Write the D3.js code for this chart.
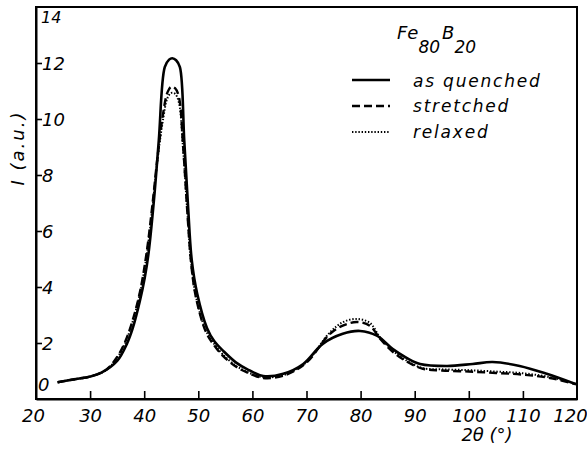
<!DOCTYPE html>
<html>
<head>
<meta charset="utf-8">
<script src="https://cdn.jsdelivr.net/npm/d3@7"></script>
<style>
  html, body { margin: 0; padding: 0; background: #fff; }
  svg text { font-family: "DejaVu Sans", sans-serif; font-style: oblique; fill: #000; }
</style>
</head>
<body>
<svg id="chart" width="587" height="455"></svg>
<script>
// ---- data ----
const xTicks = [20, 30, 40, 50, 60, 70, 80, 90, 100, 110, 120];
const yTicks = [0, 2, 4, 6, 8, 10, 12, 14];

const quenchedX = [24, 27, 30, 32, 35, 36.8, 37.9, 39.2, 40.1, 40.8, 41.8, 42.7, 43.8, 44.6, 45.2, 45.9, 46.6, 47.4, 48.1, 48.8, 49.8, 51.6, 53, 54.6, 57, 59, 62, 65.7, 69.4, 73, 76.7, 79.9, 83, 85.9, 88.5, 91, 96, 100.7, 104.4, 109.4, 114.4, 119.8];
const quenchedY = [0.6, 0.7, 0.8, 0.93, 1.36, 1.97, 2.54, 3.5, 4.33, 5.2, 7.1, 9.24, 11.85, 12.12, 12.17, 12.1, 11.85, 9.24, 6.9, 4.94, 3.76, 2.54, 2.05, 1.72, 1.3, 1.07, 0.82, 0.9, 1.25, 1.97, 2.33, 2.43, 2.26, 1.79, 1.47, 1.25, 1.18, 1.25, 1.32, 1.18, 0.9, 0.53];

const otherX = [24, 27, 30, 33, 35, 36.5, 38, 39.3, 40.5, 41.5, 42.5, 43.5, 44.3, 45, 45.7, 46.4, 47.2, 48, 48.7, 49.6, 51.4, 53, 54.5, 57, 59, 62, 66, 70, 74.2, 76.7, 79.3, 81.7, 83.6, 86, 88.6, 91.5, 95, 100, 105, 110, 115, 119.8];
const stretchedY = [0.6, 0.7, 0.8, 1.05, 1.5, 2.05, 2.9, 3.9, 5.3, 6.9, 8.7, 10.2, 10.95, 11.15, 11.1, 10.8, 9.0, 6.6, 4.8, 3.6, 2.4, 1.9, 1.55, 1.15, 0.95, 0.75, 0.85, 1.3, 2.3, 2.62, 2.75, 2.62, 2.15, 1.68, 1.33, 1.08, 1.02, 0.98, 0.93, 0.87, 0.75, 0.53];
const relaxedY = [0.6, 0.7, 0.8, 1.03, 1.47, 2.0, 2.85, 3.85, 5.2, 6.8, 8.6, 10.0, 10.75, 10.93, 10.9, 10.6, 8.9, 6.6, 4.8, 3.62, 2.45, 1.95, 1.6, 1.18, 0.97, 0.78, 0.87, 1.32, 2.35, 2.74, 2.86, 2.72, 2.2, 1.72, 1.36, 1.1, 1.06, 1.03, 0.98, 0.92, 0.78, 0.55];

const seriesNames = ["as quenched", "stretched", "relaxed"];

// ---- layout ----
const svg = d3.select("#chart");
const L = 36, T = 7, R = 577, B = 399;
const x = d3.scaleLinear().domain([20, 120]).range([L, R]);
const y = d3.scaleLinear().domain([0, 14]).range([B, T]);

const styles = [
  { dash: null, width: 2.6 },
  { dash: "8,4", width: 2.4 },
  { dash: "1.4,1.8", width: 2.0 }
];

// frame
svg.append("rect").attr("x", L).attr("y", T).attr("width", R - L).attr("height", B - T)
  .attr("fill", "none").attr("stroke", "#000").attr("stroke-width", 2);

// x axis (inward ticks)
const gx = svg.append("g").attr("transform", `translate(0,${B})`)
  .call(d3.axisBottom(x).tickValues(xTicks).tickSizeInner(-8).tickSizeOuter(0).tickPadding(12).tickFormat(d3.format("d")));
gx.select(".domain").attr("stroke-width", 2);
gx.selectAll(".tick line").attr("stroke-width", 1.6);
gx.selectAll(".tick text").attr("font-size", 18).attr("font-family", "DejaVu Sans").attr("font-style", "oblique")
  .attr("dy", "0.6em");
gx.selectAll(".tick text").filter(d => d === 20).attr("dx", -3);
gx.selectAll(".tick text").filter(d => d === 120).attr("dx", -7);
gx.selectAll(".tick line").filter(d => d === 20 || d === 120).remove();

// y axis (inward ticks, labels inside)
const gy = svg.append("g").attr("transform", `translate(${L},0)`)
  .call(d3.axisLeft(y).tickValues(yTicks).tickSizeInner(-6).tickSizeOuter(0).tickFormat(d3.format("d")));
gy.select(".domain").attr("stroke-width", 2);
gy.selectAll(".tick line").attr("stroke-width", 1.6);
gy.selectAll(".tick line").filter(d => d === 0 || d === 14).remove();
gy.selectAll(".tick text").attr("font-size", 18).attr("font-family", "DejaVu Sans").attr("font-style", "oblique")
  .attr("text-anchor", "start").attr("x", 6).attr("dy", "0.35em");
gy.selectAll(".tick text").filter(d => d === 14).attr("x", 5).attr("dy", "0.95em").attr("font-size", 16);
gy.selectAll(".tick text").filter(d => d === 0).attr("x", 2).attr("dy", "-0.45em");

// axis titles
svg.append("text").attr("x", 487).attr("y", 441).attr("text-anchor", "middle")
  .attr("font-size", 18).text("2θ (°)");
svg.append("text").attr("transform", "translate(24,148) rotate(-90)").attr("text-anchor", "middle")
  .attr("font-size", 18).attr("letter-spacing", 2).text("I (a.u.)");

// curves
const line = d3.line().x(d => x(d[0])).y(d => y(d[1])).curve(d3.curveCatmullRom.alpha(0.5));
const data = [
  d3.zip(quenchedX, quenchedY),
  d3.zip(otherX, stretchedY),
  d3.zip(otherX, relaxedY)
];
[2, 1, 0].forEach(i => {
  svg.append("path").datum(data[i]).attr("d", line)
    .attr("fill", "none").attr("stroke", "#000")
    .attr("stroke-width", styles[i].width)
    .attr("stroke-dasharray", styles[i].dash)
    .attr("stroke-linejoin", "round");
});

// legend
const title = svg.append("text").attr("x", 397).attr("y", 39).attr("font-size", 18);
title.append("tspan").text("Fe");
title.append("tspan").attr("dy", 14).attr("font-size", 17).text("80");
title.append("tspan").attr("dy", -14).attr("dx", 2).text("B");
title.append("tspan").attr("dy", 14).attr("font-size", 17).text("20");

const legY = [80, 106, 132];
const legTextY = [87, 112, 138];
seriesNames.forEach((name, i) => {
  svg.append("line").attr("x1", 352).attr("x2", 390).attr("y1", legY[i]).attr("y2", legY[i])
    .attr("stroke", "#000").attr("stroke-width", styles[i].width)
    .attr("stroke-dasharray", styles[i].dash);
  svg.append("text").attr("x", 413).attr("y", legTextY[i]).attr("font-size", 17)
    .attr("letter-spacing", 1.8).text(name);
});
</script>
</body>
</html>
